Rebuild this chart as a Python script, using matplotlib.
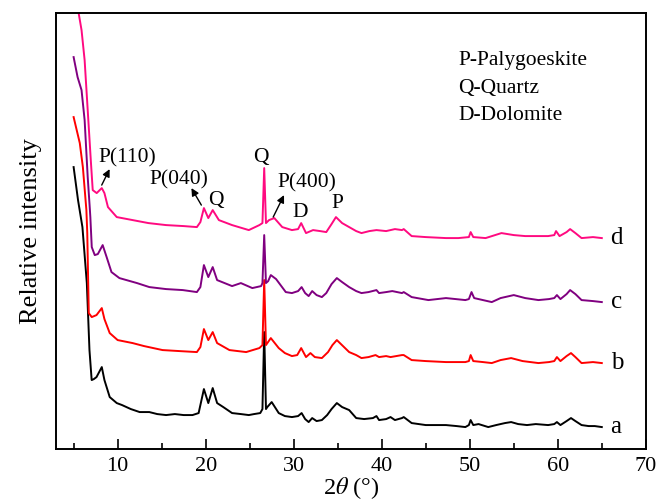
import numpy as np
import matplotlib
matplotlib.use("Agg")
import matplotlib.pyplot as plt
from matplotlib.ticker import MultipleLocator

plt.rcParams['font.family'] = ['Liberation Serif', 'DejaVu Serif']
plt.rcParams['mathtext.fontset'] = 'stix'

# XRD patterns, values (arbitrary intensity, offsets included)
a_x = [5.0, 5.5, 6.0, 6.5, 6.8, 7.05, 7.3, 7.6, 8.2, 8.5, 9.1, 9.9, 10.5, 11.5, 12.5, 13.6,
       14.5, 15.5, 16.5, 17.5, 18.5, 19.2, 19.8, 20.3, 20.8, 21.3, 22.0, 23.0, 24.0, 24.9,
       25.5, 26.2, 26.45, 26.65, 26.85, 27.0, 27.5, 28.3, 29.0, 29.8, 30.5, 30.9, 31.3, 31.7,
       32.1, 32.6, 33.2, 33.8, 34.3, 34.9, 35.5, 36.3, 37.1, 38.0, 39.0, 39.4, 39.7, 40.5,
       41.0, 41.5, 42.3, 42.5, 43.4, 45.0, 46.5, 47.3, 48.5, 49.5, 49.9, 50.1, 50.4, 51.0,
       52.1, 53.0, 54.0, 54.7, 55.5, 56.5, 57.5, 58.9, 59.6, 59.9, 60.3, 61.0, 61.5, 62.0,
       62.7, 63.5, 64.2, 65.0]
a_y = [282, 249, 222, 166, 99, 69, 70, 72, 82, 69, 52, 46, 44, 40, 37, 37,
       35, 34, 35, 34, 34, 36, 60, 46, 61, 46, 42, 36, 35, 34,
       35, 36, 40, 117, 40, 42, 47, 36, 33, 32, 33, 36, 30, 27,
       31, 28, 29, 34, 40, 46, 42, 39, 31, 30, 31, 33, 29, 30,
       32, 29, 31, 32, 26, 24, 24, 24, 23, 22, 24, 29, 24, 25,
       22, 24, 26, 27, 25, 24, 25, 24, 25, 27, 24, 28, 31, 28,
       24, 23, 23, 22]

b_x = [5.0, 5.7, 6.05, 6.45, 6.55, 6.72, 7.06, 7.6, 8.2, 8.5, 9.1, 10.0, 11.7, 13.0, 15.1,
       17.0, 19.0, 19.4, 19.8, 20.3, 20.8, 21.3, 22.7, 24.6, 26.1, 26.45, 26.65, 26.85, 27.4,
       28.3, 29.0, 29.8, 30.4, 30.85, 31.4, 31.9, 32.4, 33.2, 33.9, 34.4, 34.9, 35.6, 36.3,
       37.1, 37.7, 38.5, 39.3, 39.7, 40.5, 41.0, 42.3, 42.5, 43.4, 45.0, 47.3, 49.5, 49.9,
       50.1, 50.4, 51.5, 52.5, 53.5, 54.7, 56.0, 57.8, 59.0, 59.6, 59.9, 60.3, 61.0, 61.5,
       62.0, 62.7, 64.0, 65.0]
b_y = [332, 306, 282, 239, 216, 136, 132, 134, 141, 130, 116, 109, 106, 103, 99,
       98, 97, 102, 120, 109, 117, 106, 99, 97, 101, 104, 169, 104, 111,
       101, 96, 93, 94, 101, 92, 96, 92, 91, 97, 104, 109, 103, 97,
       94, 91, 92, 94, 92, 93, 92, 94, 94, 89, 88, 87, 87, 88,
       94, 88, 87, 86, 89, 91, 88, 86, 87, 88, 92, 88, 93, 96,
       92, 86, 87, 86]

c_x = [5.0, 5.45, 5.9, 6.25, 6.6, 6.85, 6.9, 7.06, 7.4, 7.75, 8.3, 8.75, 9.3, 10.2, 12.2,
       13.6, 15.5, 17.4, 19.0, 19.4, 19.8, 20.3, 20.8, 21.3, 23.0, 24.0, 25.3, 26.3, 26.45,
       26.65, 26.85, 27.1, 27.4, 28.0, 29.1, 29.8, 30.5, 30.9, 31.3, 31.7, 32.1, 32.6, 33.2,
       33.7, 34.3, 34.9, 35.5, 36.3, 37.1, 37.7, 38.5, 39.4, 39.7, 40.5, 41.2, 42.3, 42.5,
       43.4, 45.3, 47.3, 49.5, 49.9, 50.2, 50.5, 51.5, 52.5, 53.5, 55.0, 56.3, 57.8, 59.0,
       59.6, 59.9, 60.3, 61.0, 61.4, 62.0, 62.7, 64.0, 65.0]
c_y = [392, 372, 359, 329, 272, 239, 232, 202, 194, 195, 204, 192, 177, 171, 166,
       162, 160, 159, 157, 162, 184, 172, 182, 169, 163, 166, 161, 163, 166,
       214, 166, 168, 174, 170, 157, 156, 158, 162, 156, 153, 158, 154, 152,
       156, 165, 171, 167, 162, 158, 156, 157, 159, 156, 157, 158, 156, 157,
       152, 149, 151, 149, 150, 157, 151, 149, 147, 151, 154, 151, 149, 150,
       151, 154, 150, 155, 159, 155, 149, 148, 147]

d_x = [5.3, 5.9, 6.25, 6.6, 6.95, 7.17, 7.62, 8.2, 8.5, 8.9, 9.9, 11.7, 13.5, 15.5, 17.5,
       19.0, 19.4, 19.8, 20.3, 20.8, 21.5, 23.0, 24.9, 26.1, 26.45, 26.65, 26.85, 27.2, 27.8,
       28.7, 29.8, 30.5, 30.85, 31.4, 32.2, 33.0, 33.7, 34.3, 34.8, 35.5, 36.3, 37.1, 37.7,
       38.6, 39.4, 40.5, 41.5, 42.3, 42.5, 43.4, 45.0, 47.3, 48.7, 49.9, 50.1, 50.4, 51.8,
       53.6, 55.0, 56.3, 57.8, 58.9, 59.6, 59.8, 60.2, 61.0, 61.4, 62.0, 62.7, 64.0, 65.0]
d_y = [450, 419, 389, 339, 289, 259, 256, 261, 256, 242, 232, 229, 226, 224, 223,
       222, 227, 241, 231, 239, 229, 224, 219, 224, 226, 281, 226, 229, 231,
       222, 219, 220, 226, 216, 219, 218, 217, 225, 232, 226, 222, 218, 216,
       218, 219, 218, 220, 219, 220, 213, 212, 211, 211, 212, 217, 212, 211,
       216, 214, 213, 213, 213, 214, 218, 213, 217, 220, 216, 211, 212, 211]

series = [
    (a_x, a_y, '#000000', 'a'),
    (b_x, b_y, '#ff0000', 'b'),
    (c_x, c_y, '#800080', 'c'),
    (d_x, d_y, '#ff0a80', 'd'),
]

fig = plt.figure(figsize=(6.59, 5.04), dpi=100)
ax = fig.add_axes([0.085, 0.109, 0.895, 0.865])

for xs, ys, col, lab in series:
    ax.plot(xs, ys, color=col, lw=1.4)
    ax.text(66.0, ys[-1], lab, fontsize=18, ha='left', va='center')

ax.set_xlim(3, 70)
ax.set_ylim(0, 436)
ax.xaxis.set_major_locator(MultipleLocator(10))
ax.xaxis.set_minor_locator(MultipleLocator(5))
ax.set_xticks([10, 20, 30, 40, 50, 60, 70])
ax.tick_params(axis='x', which='major', direction='in', length=7, width=1.2, labelsize=16, pad=6)
ax.tick_params(axis='x', which='minor', direction='in', length=4, width=1.2)
ax.set_yticks([])
for sp in ax.spines.values():
    sp.set_linewidth(1.4)

ax.set_xlabel(r'2$\theta$ (°)', fontsize=17.5, labelpad=-1)
ax.set_ylabel('Relative intensity', fontsize=19, labelpad=10)

# peak labels
arr = dict(arrowstyle='-|>', color='black', lw=1.0, mutation_scale=11, shrinkA=0, shrinkB=0)
ax.annotate('', xy=(9.09, 280), xytext=(8.19, 264), arrowprops=arr)
ax.text(11.1, 291, 'P(110)', fontsize=15.5, ha='center', va='center')
ax.annotate('', xy=(18.38, 261), xytext=(19.51, 244), arrowprops=arr)
ax.text(17.0, 269, 'P(040)', fontsize=15.5, ha='center', va='center')
ax.text(21.2, 249, 'Q', fontsize=15.5, ha='center', va='center')
ax.text(26.3, 292, 'Q', fontsize=15.5, ha='center', va='center')
ax.annotate('', xy=(28.9, 254), xytext=(27.67, 232), arrowprops=arr)
ax.text(31.5, 266, 'P(400)', fontsize=15.5, ha='center', va='center')
ax.text(30.7, 237, 'D', fontsize=15.5, ha='center', va='center')
ax.text(35.0, 246, 'P', fontsize=15.5, ha='center', va='center')

legend_lines = ['P-Palygoeskite', 'Q-Quartz', 'D-Dolomite']
legend_y = [389, 361, 334]
for t, yy in zip(legend_lines, legend_y):
    ax.text(48.7, yy, t, fontsize=15.5, ha='left', va='center')

fig.savefig('out.png', dpi=100)
